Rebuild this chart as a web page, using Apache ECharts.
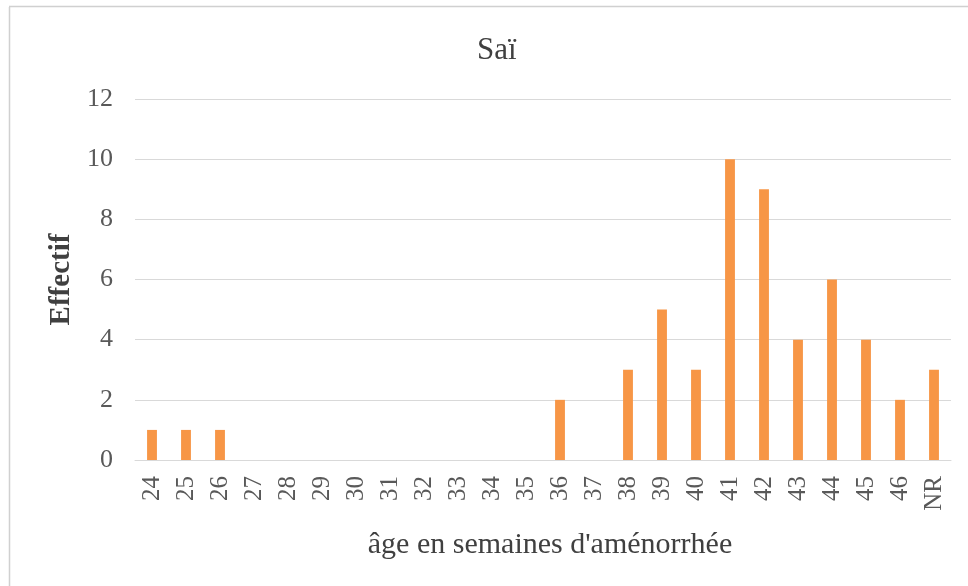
<!DOCTYPE html>
<html>
<head>
<meta charset="utf-8">
<script src="https://cdn.jsdelivr.net/npm/echarts@6/dist/echarts.min.js"></script>
<style>
html, body { margin: 0; padding: 0; background: #fff; }
#chart { width: 968px; height: 586px; }
</style>
</head>
<body>
<div id="chart"></div>
<script>
// Gestational age categories (weeks of amenorrhea) and counts
const categories = ['24','25','26','27','28','29','30','31','32','33','34','35','36','37','38','39','40','41','42','43','44','45','46','NR'];
const counts = [1,1,1,0,0,0,0,0,0,0,0,0,2,0,3,5,3,10,9,4,6,4,2,3];
const yTicks = { min: 0, max: 12, interval: 2 };

const serif = '"Liberation Serif", "Times New Roman", serif';
const chart = echarts.init(document.getElementById('chart'));

chart.setOption({
  animation: false,
  backgroundColor: '#ffffff',
  graphic: [
    { type: 'line', shape: { x1: 9.5, y1: 7, x2: 9.5, y2: 586 }, style: { stroke: '#d0d0d0', lineWidth: 1.5 } },
    { type: 'line', shape: { x1: 9, y1: 6.5, x2: 968, y2: 6.5 }, style: { stroke: '#d0d0d0', lineWidth: 1.5 } }
  ],
  title: {
    text: 'Saï',
    left: 472,
    top: 30,
    textStyle: { fontFamily: serif, fontSize: 31, fontWeight: 'normal', color: '#404040' }
  },
  grid: { left: 135, right: 17, top: 99, bottom: 126 },
  xAxis: {
    type: 'category',
    data: categories,
    name: "âge en semaines d'aménorrhée",
    nameLocation: 'middle',
    nameGap: 70,
    nameTextStyle: { fontFamily: serif, fontSize: 30, color: '#404040', padding: [0, 0, 0, 14] },
    axisLine: { lineStyle: { color: '#d9d9d9' } },
    axisTick: { show: false },
    axisLabel: { rotate: 90, interval: 0, margin: 16, fontFamily: serif, fontSize: 25, color: '#595959' }
  },
  yAxis: {
    type: 'value',
    min: yTicks.min,
    max: yTicks.max,
    interval: yTicks.interval,
    name: 'Effectif',
    nameLocation: 'middle',
    nameGap: 58,
    nameRotate: 90,
    nameTextStyle: { fontFamily: serif, fontSize: 29, fontWeight: 'bold', color: '#404040' },
    axisLine: { show: false },
    axisTick: { show: false },
    axisLabel: { margin: 22, fontFamily: serif, fontSize: 26, color: '#595959' },
    splitLine: { lineStyle: { color: '#d9d9d9' } }
  },
  series: [{
    type: 'bar',
    data: counts,
    barWidth: '29%',
    itemStyle: { color: '#F79646' }
  }]
});
</script>
</body>
</html>
